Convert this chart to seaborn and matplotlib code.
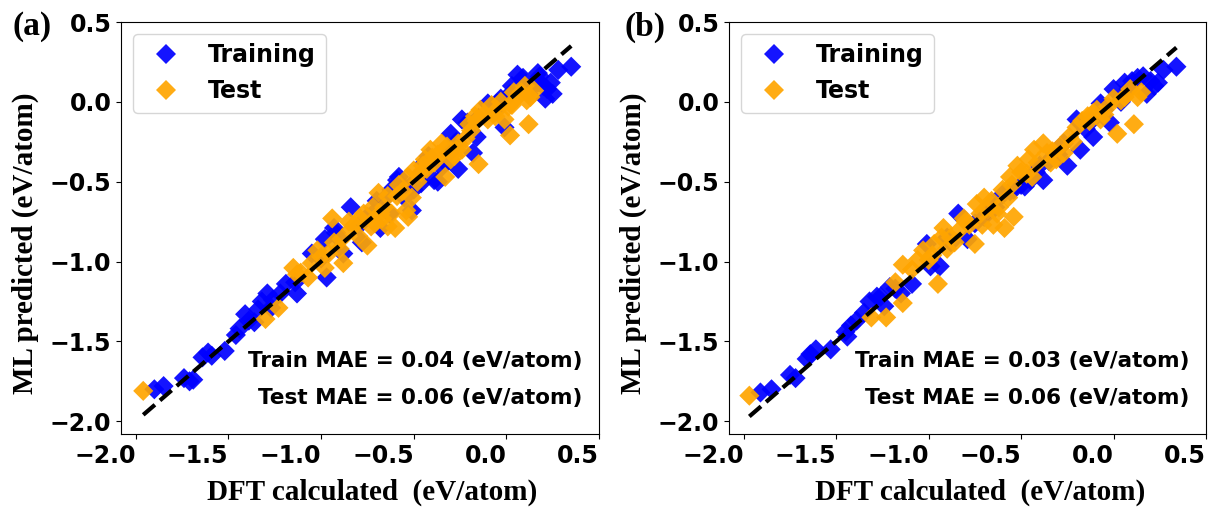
import matplotlib
matplotlib.use("Agg")
import matplotlib.pyplot as plt
import pandas as pd
import seaborn as sns

# ---------------- data ----------------
a_train_dft = [-1.90, -1.85, -1.74, -1.71, -1.69, -1.64, -1.61, -1.59, -1.52, -1.46, -1.44, -1.41, -1.39, -1.36,
               -1.32, -1.29, -1.26, -1.27, -1.19, -1.13, -1.14, -0.97, -1.05, -0.98, -0.92, -0.84, -0.78, -0.70,
               -0.66, -0.59, -0.51, -0.50, -0.46, -0.37, -0.42, -0.35, -0.31, -0.26, -0.18, -0.21, -0.24, -0.10,
               -0.01, -0.03, 0.03, 0.06, 0.17, 0.17, 0.22, 0.21, 0.28, 0.35, 0.12, -0.06, -0.15, -0.55, -0.62,
               -0.75, -0.88, -0.58, -0.45, -0.30, 0.18, 0.25, -0.68, -0.93, -0.39,
               -0.80, -0.72, -0.63, -0.52, -0.33, -0.27, -0.16, -0.05, 0.02, 0.09, 0.20, 0.24, 0.14, -1.00,
               -0.90, -1.22, -1.34, -0.44]
a_train_ml = [-1.80, -1.78, -1.73, -1.75, -1.74, -1.60, -1.57, -1.59, -1.56, -1.46, -1.42, -1.33, -1.37, -1.38,
              -1.25, -1.20, -1.24, -1.29, -1.14, -1.20, -1.13, -1.10, -0.95, -0.86, -0.82, -0.66, -0.88, -0.62,
              -0.61, -0.49, -0.68, -0.55, -0.51, -0.50, -0.34, -0.41, -0.32, -0.42, -0.32, -0.13, -0.11, -0.01,
              -0.16, 0.02, 0.10, 0.17, 0.18, 0.12, 0.08, 0.02, 0.20, 0.22, 0.05, -0.06, -0.10, -0.60, -0.55,
              -0.72, -0.95, -0.47, -0.44, -0.20, 0.16, 0.05, -0.79, -0.79, -0.49,
              -0.78, -0.70, -0.70, -0.53, -0.38, -0.25, -0.22, -0.01, 0.05, 0.15, 0.10, 0.12, 0.10, -0.98,
              -0.86, -1.20, -1.30, -0.38]
a_test_dft = [-1.96, -1.30, -1.23, -1.15, -1.11, -1.05, -1.00, -0.96, -0.88, -0.93, -0.89, -0.84, -0.79, -0.75,
              -0.94, -0.71, -0.68, -0.64, -0.60, -0.69, -0.64, -0.59, -0.54, -0.53, -0.53, -0.50, -0.44, -0.41,
              -0.35, -0.39, -0.33, -0.28, -0.26, -0.19, -0.17, -0.14, -0.10, -0.15, -0.05, 0.01, 0.06, 0.10,
              0.13, 0.02, 0.12, -0.01, -0.80, -0.72, -0.58, -0.46, -0.37, -0.22, -0.08, 0.04, -1.07, -0.98,
              -0.90, -0.85, -0.77, -0.73, -0.66, -0.62, -0.56, -0.48, -0.43, -0.40, -0.32, -0.30, -0.24, -0.20,
              -0.12, -0.06, -0.03, 0.03, 0.08, 0.15, -1.13, -1.02, -0.70, -0.51, -0.36,
              -0.82, -0.67, -0.45, -0.27, -0.16, 0.11]
a_test_ml = [-1.81, -1.36, -1.29, -1.04, -1.07, -1.01, -0.97, -0.95, -1.01, -0.88, -0.86, -0.80, -0.73, -0.90,
             -0.73, -0.76, -0.70, -0.78, -0.79, -0.57, -0.59, -0.59, -0.68, -0.72, -0.47, -0.43, -0.36, -0.30,
             -0.26, -0.38, -0.47, -0.34, -0.26, -0.18, -0.09, -0.05, -0.11, -0.39, -0.05, -0.03, 0.03, 0.10,
             0.03, -0.21, -0.14, -0.11, -0.84, -0.66, -0.52, -0.44, -0.33, -0.23, -0.02, 0.06, -1.10, -1.04,
             -0.92, -0.75, -0.70, -0.78, -0.66, -0.70, -0.56, -0.50, -0.42, -0.35, -0.28, -0.36, -0.30, -0.14,
             -0.08, -0.09, 0.00, -0.02, 0.06, 0.07, -1.08, -0.93, -0.72, -0.60, -0.33,
             -0.77, -0.73, -0.40, -0.30, -0.12, 0.01]

b_train_dft = [-1.91, -1.85, -1.75, -1.72, -1.66, -1.64, -1.61, -1.53, -1.44, -1.42, -1.39, -1.32, -1.28, -1.24,
               -1.21, -1.09, -0.99, -1.01, -0.84, -0.79, -0.66, -0.54, -0.48, -0.45, -0.38, -0.27, -0.18, -0.11,
               -0.02, 0.06, 0.16, 0.22, 0.18, 0.27, 0.34, 0.00, -0.07, -0.20, -0.90, -0.75, -0.60, -0.40, -0.30,
               -0.12, 0.10, 0.04, -0.94, -1.15, -0.70, -0.25,
               -1.35, -1.26, -1.18, -0.88, -0.64, -0.50, -0.35, -0.15, 0.08, 0.13, 0.20, 0.24, -0.05, -0.42,
               -0.56, -1.45]
b_train_ml = [-1.82, -1.80, -1.71, -1.73, -1.61, -1.58, -1.55, -1.55, -1.47, -1.40, -1.37, -1.25, -1.22, -1.28,
              -1.16, -1.14, -1.03, -0.89, -0.70, -0.86, -0.64, -0.55, -0.53, -0.49, -0.49, -0.26, -0.30, -0.22,
              -0.13, 0.12, 0.16, 0.10, 0.05, 0.20, 0.22, 0.08, -0.01, -0.11, -0.85, -0.76, -0.58, -0.40, -0.33,
              -0.12, 0.13, 0.00, -1.03, -1.20, -0.72, -0.40,
              -1.32, -1.22, -1.17, -0.88, -0.66, -0.52, -0.37, -0.17, 0.08, 0.15, 0.13, 0.12, -0.05, -0.44,
              -0.56, -1.44]
b_test_dft = [-1.97, -1.31, -1.23, -1.14, -1.14, -1.09, -0.95, -1.03, -0.97, -0.92, -0.88, -0.81, -0.75, -0.70,
              -0.65, -0.59, -0.54, -0.56, -0.52, -0.43, -0.38, -0.34, -0.27, -0.20, -0.14, -0.09, 0.02, 0.11,
              0.04, 0.09, 0.13, -0.07, -0.68, -0.74, -0.84, -1.06, -0.98, -0.62, -0.47, -0.33, -0.24, -0.03,
              -0.78, -0.86, -0.60, -0.46,
              -1.18, -1.00, -0.90, -0.72, -0.66, -0.57, -0.50, -0.41, -0.36, -0.29, -0.22, -0.17, -0.11, -0.05,
              0.00, 0.06, 0.15, -0.80, -0.63, -0.44,
              -0.93, -0.71, -0.55, -0.31, -0.13]
b_test_ml = [-1.84, -1.35, -1.35, -1.26, -1.02, -1.05, -1.14, -0.93, -0.89, -0.79, -0.85, -0.73, -0.89, -0.60,
             -0.77, -0.79, -0.72, -0.47, -0.40, -0.30, -0.26, -0.38, -0.32, -0.16, -0.09, -0.05, -0.20, -0.14,
             0.01, 0.08, 0.03, -0.11, -0.68, -0.64, -0.81, -0.99, -0.96, -0.66, -0.45, -0.31, -0.22, -0.03,
             -0.77, -0.88, -0.55, -0.36,
             -1.13, -0.99, -0.92, -0.70, -0.62, -0.60, -0.44, -0.38, -0.32, -0.28, -0.25, -0.12, -0.07, -0.08,
             0.02, 0.03, 0.06, -0.75, -0.70, -0.47,
             -0.85, -0.77, -0.52, -0.36, -0.12]

panel_tags = ["(a)", "(b)"]
train_mae = ["0.04", "0.03"]
test_mae = ["0.06", "0.06"]
set_names = ["Training", "Test"]
tick_values = [-2.0, -1.5, -1.0, -0.5, 0.0, 0.5]
tick_labels = ["\u22122.0", "\u22121.5", "\u22121.0", "\u22120.5", "0.0", "0.5"]

# ---------------- style ----------------
plt.rcParams['font.family'] = ['DejaVu Sans']
plt.rcParams['font.weight'] = 'bold'
SERIF = 'Liberation Serif'
palette = {"Training": "blue", "Test": "orange"}

W, H = 1216, 516
fig = plt.figure(figsize=(W / 100, H / 100), dpi=100)
rects = [[121 / W, 82 / H, 478 / W, 412 / H], [729 / W, 82 / H, 477 / W, 412 / H]]
tag_x = [13 / W, 624 / W]

datasets = [(a_train_dft, a_train_ml, a_test_dft, a_test_ml),
            (b_train_dft, b_train_ml, b_test_dft, b_test_ml)]

for i, (trx, try_, tex, tey) in enumerate(datasets):
    ax = fig.add_axes(rects[i])
    df = pd.DataFrame({
        "DFT": trx + tex,
        "ML": try_ + tey,
        "Set": [set_names[0]] * len(trx) + [set_names[1]] * len(tex),
    })
    sns.scatterplot(data=df, x="DFT", y="ML", hue="Set", palette=palette,
                    marker="D", s=105, linewidth=0, alpha=0.92, ax=ax)
    lo = min(df["DFT"].min(), df["ML"].min())
    hi = max(df["DFT"].max(), df["ML"].max())
    ax.plot([lo, hi], [lo, hi], color="black", linestyle="--", linewidth=3)

    ax.set_xlim(-2.08, 0.5)
    ax.set_ylim(-2.08, 0.5)
    ax.set_xticks(tick_values, tick_labels, ha="right")
    ax.set_yticks(tick_values, tick_labels)
    ax.tick_params(labelsize=17)

    ax.set_xlabel("DFT calculated  (eV/atom)", fontsize=21, fontweight="bold", family=SERIF)
    ax.set_ylabel("ML predicted (eV/atom)", fontsize=21, fontweight="bold", family=SERIF)
    ax.xaxis.set_label_coords(0.526, -0.109)
    ax.yaxis.set_label_coords(-0.172, 0.464)

    handles, labels = ax.get_legend_handles_labels()
    ax.legend(handles, labels, loc="upper left", handletextpad=0.8,
              prop={"weight": "bold", "size": 17})

    ax.text(0.966, 0.177, f"Train MAE = {train_mae[i]} (eV/atom)", transform=ax.transAxes,
            ha="right", va="center", fontsize=15.5, fontweight="bold")
    ax.text(0.966, 0.087, f"Test MAE = {test_mae[i]} (eV/atom)", transform=ax.transAxes,
            ha="right", va="center", fontsize=15.5, fontweight="bold")

    fig.text(tag_x[i], 1 - 27 / H, panel_tags[i], family=SERIF, fontsize=24,
             fontweight="bold", ha="left", va="center")

fig.savefig("out.png", dpi=100)
